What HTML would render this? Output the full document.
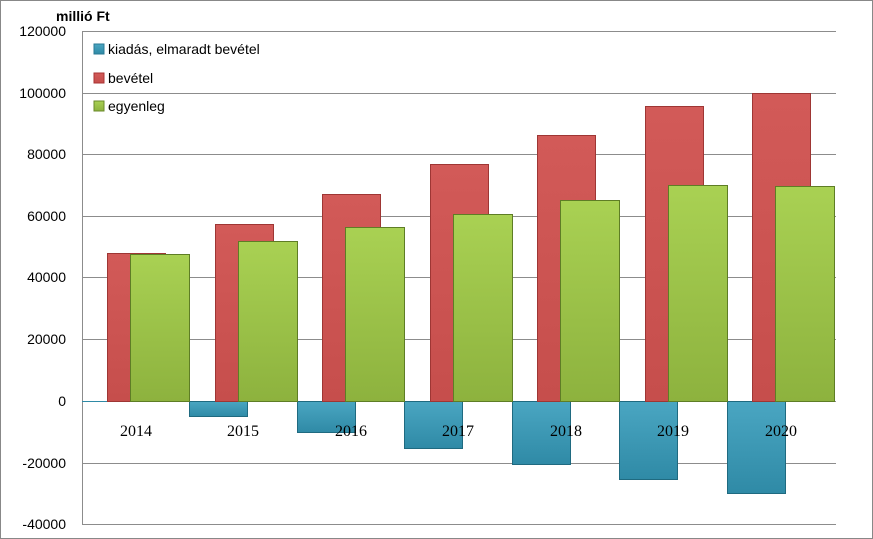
<!DOCTYPE html>
<html><head><meta charset="utf-8"><style>
html,body{margin:0;padding:0;background:#fff}
svg{display:block}
</style></head><body>
<svg width="873" height="539" xmlns="http://www.w3.org/2000/svg">
<defs>
<linearGradient id="gr" x1="0" x2="0" y1="0" y2="1"><stop offset="0" stop-color="#a9d153"/><stop offset="1" stop-color="#8db23e"/></linearGradient>
<linearGradient id="rd" x1="0" x2="0" y1="0" y2="1"><stop offset="0" stop-color="#d25a58"/><stop offset="1" stop-color="#c64e4c"/></linearGradient>
<linearGradient id="bl" x1="0" x2="0" y1="0" y2="1"><stop offset="0" stop-color="#4aa6c2"/><stop offset="1" stop-color="#2f8aa6"/></linearGradient>
</defs>
<rect x="0.5" y="0.5" width="872" height="538" fill="#fff" stroke="#888"/>
<g stroke="#8c8c8c" stroke-width="1">
<line x1="82" x2="836" y1="31.5" y2="31.5"/>
<line x1="82" x2="836" y1="93.5" y2="93.5"/>
<line x1="82" x2="836" y1="154.5" y2="154.5"/>
<line x1="82" x2="836" y1="216.5" y2="216.5"/>
<line x1="82" x2="836" y1="277.5" y2="277.5"/>
<line x1="82" x2="836" y1="339.5" y2="339.5"/>
<line x1="82" x2="836" y1="401.5" y2="401.5"/>
<line x1="82" x2="836" y1="463.5" y2="463.5"/>
<line x1="82" x2="836" y1="524.5" y2="524.5"/>
<line x1="82.5" x2="82.5" y1="31" y2="525"/>
</g>
<g font-family="Liberation Sans, sans-serif" font-size="14" text-anchor="end" fill="#000">
<text x="66" y="36">120000</text><text x="66" y="98">100000</text><text x="66" y="159">80000</text>
<text x="66" y="221">60000</text><text x="66" y="282">40000</text><text x="66" y="344">20000</text>
<text x="66" y="406">0</text><text x="66" y="468">-20000</text><text x="66" y="529">-40000</text>
</g>
<text x="56" y="21" font-family="Liberation Sans, sans-serif" font-size="14" font-weight="bold">millió Ft</text>
<g font-family="Liberation Sans, sans-serif" font-size="14">
<rect x="94" y="44" width="10" height="10" fill="url(#bl)" stroke="#2a7a94"/><text x="108" y="54">kiadás, elmaradt bevétel</text>
<rect x="94" y="73" width="10" height="10" fill="url(#rd)" stroke="#a33"/><text x="108" y="83">bevétel</text>
<rect x="94" y="101" width="10" height="10" fill="url(#gr)" stroke="#6a8a2a"/><text x="108" y="111">egyenleg</text>
</g>
<g stroke-width="1">
<!-- blue -->
<rect x="82" y="401" width="58" height="1" fill="#2f8aa6"/>
<rect x="189.5" y="401.5" width="58" height="15" fill="url(#bl)" stroke="#1f6a80"/>
<rect x="297.5" y="401.5" width="58" height="31" fill="url(#bl)" stroke="#1f6a80"/>
<rect x="404.5" y="401.5" width="58" height="47" fill="url(#bl)" stroke="#1f6a80"/>
<rect x="512.5" y="401.5" width="58" height="63" fill="url(#bl)" stroke="#1f6a80"/>
<rect x="619.5" y="401.5" width="58" height="78" fill="url(#bl)" stroke="#1f6a80"/>
<rect x="727.5" y="401.5" width="58" height="92" fill="url(#bl)" stroke="#1f6a80"/>
<!-- red -->
<rect x="107.5" y="253.5" width="58" height="148" fill="url(#rd)" stroke="#9e3634"/>
<rect x="215.5" y="224.5" width="58" height="177" fill="url(#rd)" stroke="#9e3634"/>
<rect x="322.5" y="194.5" width="58" height="207" fill="url(#rd)" stroke="#9e3634"/>
<rect x="430.5" y="164.5" width="58" height="237" fill="url(#rd)" stroke="#9e3634"/>
<rect x="537.5" y="135.5" width="58" height="266" fill="url(#rd)" stroke="#9e3634"/>
<rect x="645.5" y="106.5" width="58" height="295" fill="url(#rd)" stroke="#9e3634"/>
<rect x="752.5" y="93.5" width="58" height="308" fill="url(#rd)" stroke="#9e3634"/>
<!-- green -->
<rect x="130.5" y="254.5" width="59" height="147" fill="url(#gr)" stroke="#5e7d25"/>
<rect x="238.5" y="241.5" width="59" height="160" fill="url(#gr)" stroke="#5e7d25"/>
<rect x="345.5" y="227.5" width="59" height="174" fill="url(#gr)" stroke="#5e7d25"/>
<rect x="453.5" y="214.5" width="59" height="187" fill="url(#gr)" stroke="#5e7d25"/>
<rect x="560.5" y="200.5" width="59" height="201" fill="url(#gr)" stroke="#5e7d25"/>
<rect x="668.5" y="185.5" width="59" height="216" fill="url(#gr)" stroke="#5e7d25"/>
<rect x="775.5" y="186.5" width="59" height="215" fill="url(#gr)" stroke="#5e7d25"/>
</g>
<g font-family="Liberation Serif, serif" font-size="16" text-anchor="middle">
<text x="136" y="436">2014</text><text x="243" y="436">2015</text><text x="351" y="436">2016</text>
<text x="458" y="436">2017</text><text x="566" y="436">2018</text><text x="673" y="436">2019</text><text x="781" y="436">2020</text>
</g>
</svg>
</body></html>
